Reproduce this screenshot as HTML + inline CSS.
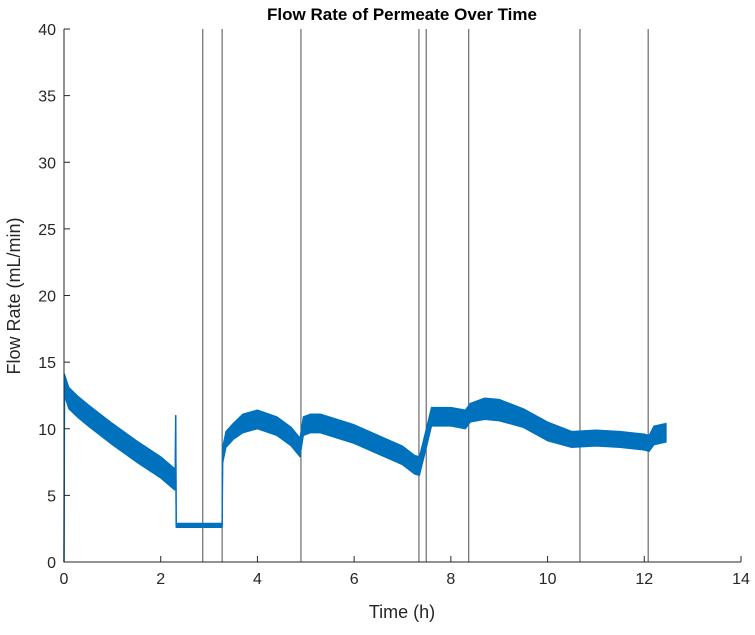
<!DOCTYPE html>
<html><head><meta charset="utf-8"><style>
body{margin:0;background:#fff;font-family:"Liberation Sans",Arial,sans-serif}
svg text{font-family:"Liberation Sans",Arial,sans-serif}
</style></head><body>
<svg id="chart" width="755" height="630">
<rect width="755" height="630" fill="#fff"/>
<g id="grid"></g>
<g id="series"></g>
<g id="axes"></g>
<text x="402" y="20" text-anchor="middle" font-size="17" font-weight="bold" fill="#000">Flow Rate of Permeate Over Time</text>
<text x="402" y="618" text-anchor="middle" font-size="18" fill="#262626">Time (h)</text>
<text transform="translate(20,296) rotate(-90)" text-anchor="middle" font-size="18" fill="#262626">Flow Rate (mL/min)</text>
</svg>
<script>
const times=[0,0.01,0.1,0.3,0.5,1,1.5,2,2.29,2.3,2.31,2.32,3.0,3.27,3.28,3.35,3.5,3.7,4,4.4,4.7,4.88,4.95,5.1,5.3,6,7,7.25,7.35,7.5,7.6,8,8.3,8.4,8.7,9,9.5,10,10.5,11,11.5,12,12.1,12.2,12.45];
const flow=[0,13.3,12.3,11.6,11,9.6,8.3,7.1,6.2,6,11,2.75,2.75,2.75,8,9.2,9.8,10.4,10.7,10.2,9.4,8.6,10.2,10.4,10.4,9.6,8,7.3,7.2,9.4,10.9,10.9,10.7,11.2,11.5,11.4,10.8,9.8,9.2,9.3,9.2,9.0,8.9,9.5,9.7];
const noise=[0,0.8,0.8,0.8,0.8,0.8,0.8,0.8,0.8,0,0,0.15,0.15,0.15,0.6,0.6,0.6,0.7,0.7,0.7,0.7,0.7,0.7,0.7,0.7,0.7,0.7,0.7,0.7,0.7,0.7,0.7,0.7,0.7,0.8,0.8,0.7,0.7,0.6,0.6,0.6,0.6,0.6,0.7,0.7];
const markers=[2.87,3.27,4.9,7.34,7.49,8.37,10.67,12.08];
const xTicks=[0,2,4,6,8,10,12,14];
const yTicks=[0,5,10,15,20,25,30,35,40];
const X0=64,X1=741,Y0=562,Y1=29;
const sx=v=>X0+(v-0)/(14-0)*(X1-X0);
const sy=v=>Y0-(v-0)/(40-0)*(Y0-Y1);
const NS="http://www.w3.org/2000/svg";
function mk(tag,attrs,parent){const e=document.createElementNS(NS,tag);for(const k in attrs)e.setAttribute(k,attrs[k]);parent.appendChild(e);return e;}
const grid=document.getElementById('grid'),series=document.getElementById('series'),axes=document.getElementById('axes');
markers.forEach(m=>{const l=mk('line',{x1:sx(m),x2:sx(m),y1:Y1,y2:Y0,stroke:'#4d4d4d','stroke-width':1},grid);

});
let up=times.map((t,i)=>sx(t)+','+sy(flow[i]+noise[i]));
let lo=times.map((t,i)=>sx(t)+','+sy(flow[i]-noise[i])).reverse();
const band=mk('polygon',{points:up.concat(lo).join(' '),fill:'#0072BD',stroke:'#0072BD','stroke-width':1.2,'stroke-linejoin':'round'},series);


const ln=mk('polyline',{points:times.map((t,i)=>sx(t)+','+sy(flow[i])).join(' '),fill:'none',stroke:'#0072BD','stroke-width':1.5},series);


const ax=mk('path',{d:`M${X0},${Y1}V${Y0}H${X1}`,fill:'none',stroke:'#262626','stroke-width':1},axes);


xTicks.forEach(t=>{mk('line',{x1:sx(t),x2:sx(t),y1:Y0,y2:Y0-6,stroke:'#262626'},axes);
const tx=mk('text',{x:sx(t),y:Y0+22,'text-anchor':'middle','font-size':16,fill:'#262626'},axes);tx.textContent=t;

});
yTicks.forEach(t=>{mk('line',{x1:X0,x2:X0+6,y1:sy(t),y2:sy(t),stroke:'#262626'},axes);
const tx=mk('text',{x:X0-8,y:sy(t)+6,'text-anchor':'end','font-size':16,fill:'#262626'},axes);tx.textContent=t;

});
</script>
</body></html>
